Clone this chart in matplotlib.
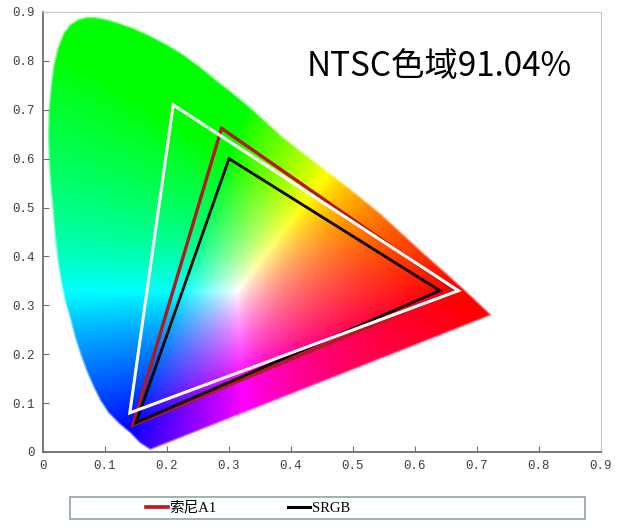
import numpy as np
import matplotlib.pyplot as plt
from matplotlib.patches import Polygon, Rectangle
from matplotlib.lines import Line2D

# outline of the colour area (x, y chromaticity)
locus_x = [0.173, 0.156, 0.140, 0.122, 0.105, 0.092, 0.081, 0.070, 0.060, 0.051,
           0.044, 0.036, 0.029, 0.024, 0.019, 0.015, 0.011, 0.009, 0.008, 0.009,
           0.012, 0.016, 0.023, 0.032, 0.043, 0.056, 0.070, 0.084, 0.100, 0.120,
           0.145, 0.173, 0.200, 0.226, 0.253, 0.280, 0.307, 0.334, 0.360, 0.387,
           0.415, 0.442, 0.474, 0.510, 0.544, 0.580, 0.615, 0.651, 0.688, 0.724]
locus_y = [0.004, 0.018, 0.039, 0.058, 0.080, 0.105, 0.133, 0.165, 0.200, 0.235,
           0.270, 0.305, 0.345, 0.386, 0.440, 0.500, 0.555, 0.600, 0.650, 0.700,
           0.745, 0.787, 0.825, 0.855, 0.874, 0.885, 0.890, 0.890, 0.886, 0.879,
           0.868, 0.852, 0.834, 0.814, 0.789, 0.761, 0.734, 0.706, 0.676, 0.645,
           0.617, 0.591, 0.560, 0.524, 0.489, 0.447, 0.406, 0.366, 0.323, 0.280]

# gamut triangles
ntsc_x = [0.21, 0.67, 0.14]
ntsc_y = [0.71, 0.33, 0.08]
sony_x = [0.288, 0.665, 0.145]
sony_y = [0.662, 0.330, 0.055]
srgb_x = [0.30, 0.64, 0.15]
srgb_y = [0.60, 0.33, 0.06]

ticks = [0, 0.1, 0.2, 0.3, 0.4, 0.5, 0.6, 0.7, 0.8, 0.9]
tick_labels = ['0', '0.1', '0.2', '0.3', '0.4', '0.5', '0.6', '0.7', '0.8', '0.9']
legend_labels = ['索尼A1', 'SRGB']
title = 'NTSC色域91.04%'

fig = plt.figure(figsize=(6.4, 5.27), dpi=100)
ax = fig.add_axes([43 / 640, 75 / 527, 558 / 640, 440 / 527])

# colour field: xy -> XYZ -> linear sRGB, clipped and normalised
n = 500
gx, gy = np.meshgrid(np.linspace(0, 0.9, n), np.linspace(0.001, 0.9, n))
X = gx / gy
Z = (1 - gx - gy) / gy
M = np.array([[3.2406, -1.5372, -0.4986],
              [-0.9689, 1.8758, 0.0415],
              [0.0557, -0.2040, 1.0570]])
rgb = np.einsum('ij,jkl->kli', M, np.stack([X, np.ones_like(X), Z]))
rgb = np.clip(rgb, 0, None)
rgb = rgb / rgb.max(axis=2, keepdims=True)
rgb = rgb ** (1 / 1.3)

im = ax.imshow(rgb, origin='lower', extent=[0, 0.9, 0, 0.9], aspect='auto',
               interpolation='bilinear')
shape = Polygon(np.column_stack([locus_x, locus_y]), closed=True,
                transform=ax.transData, facecolor='none', edgecolor='none')
ax.add_patch(shape)
im.set_clip_path(shape)
# soft light rim around the colour area
ax.add_patch(Polygon(np.column_stack([locus_x, locus_y]), closed=True,
                     facecolor='none', edgecolor='white', lw=2.0, alpha=0.45))

# triangles
ax.fill(sony_x, sony_y, fill=False, edgecolor='#b3191e', lw=2.4, zorder=3)
ax.fill(srgb_x, srgb_y, fill=False, edgecolor='black', lw=2.0, zorder=4)
ax.fill(ntsc_x, ntsc_y, fill=False, edgecolor='white', lw=2.2, zorder=5)

ax.text(0.639, 0.788, title, ha='center', va='center', fontsize=24,
        family=['Noto Sans CJK SC', 'DejaVu Sans'])

ax.set_xlim(0, 0.9)
ax.set_ylim(0, 0.9)
ax.set_xticks(ticks)
ax.set_xticklabels(tick_labels)
ax.set_yticks(ticks)
ax.set_yticklabels(tick_labels)
ax.tick_params(direction='in', length=4, color='#707070', labelcolor='#404040',
               labelsize=9, pad=6)
for lab in ax.get_xticklabels() + ax.get_yticklabels():
    lab.set_family('Liberation Mono')
ax.spines['left'].set_color('#707070')
ax.spines['bottom'].set_color('#707070')
ax.spines['left'].set_linewidth(1.3)
ax.spines['bottom'].set_linewidth(1.3)
ax.spines['top'].set_color('#c8c8c8')
ax.spines['right'].set_color('#c8c8c8')

# legend below the plot
handles = [Line2D([], [], color='#b3191e', lw=2.6),
           Line2D([], [], color='black', lw=2.2)]
fig.legend(handles, legend_labels, ncol=2, frameon=False, loc='center left',
           bbox_to_anchor=(136 / 640, 1 - 508 / 527), handlelength=1.5,
           handletextpad=0.1, columnspacing=4.9, borderpad=0.2,
           prop={'family': ['Liberation Serif', 'Noto Sans CJK SC'], 'size': 10.5})
fig.patches.append(Rectangle((70 / 640, 1 - 519 / 527), 515 / 640, 22 / 527,
                             transform=fig.transFigure, fill=False,
                             edgecolor='#8fa4ab', lw=1.2))

fig.savefig('out.png', dpi=100)
